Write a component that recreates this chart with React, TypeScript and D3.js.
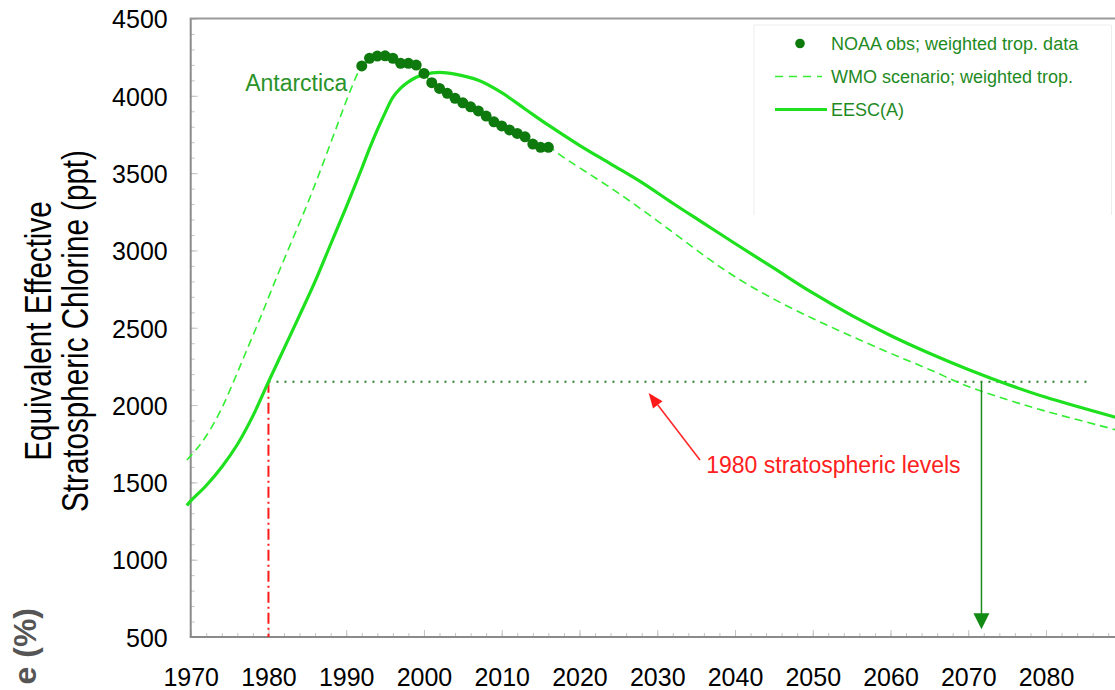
import { useEffect, useRef } from "react";
import * as d3 from "d3";

// EESC(A) curve (solid)
const eescYears = [
  1969.5, 1970, 1972, 1974, 1976, 1978, 1980, 1982, 1984, 1986, 1988, 1990,
  1992, 1993, 1994, 1995, 1996, 1997, 1998, 1999, 2000, 2002, 2004, 2007,
  2010, 2013, 2016, 2020, 2024, 2028, 2032, 2036, 2040, 2045, 2050, 2055,
  2060, 2065, 2070, 2075, 2080, 2089,
];
const eescValues = [
  1350, 1380, 1480, 1600, 1745, 1930, 2150, 2365, 2580, 2800, 3040, 3280,
  3530, 3660, 3780, 3890, 3990, 4050, 4090, 4120, 4138, 4152, 4140, 4100,
  4020, 3915, 3810, 3680, 3560, 3440, 3305, 3175, 3045, 2885, 2725, 2580,
  2450, 2335, 2230, 2135, 2050, 1920,
];

// WMO scenario (dashed), before and after the observations
const wmoEarlyYears = [1969.5, 1971, 1972.5, 1974, 1975.5, 1977, 1979, 1981, 1983, 1985, 1987, 1989, 1990.5];
const wmoEarlyValues = [1645, 1730, 1840, 1980, 2150, 2330, 2570, 2820, 3060, 3300, 3560, 3830, 4030];
const wmoLateYears = [2018, 2020, 2024, 2028, 2032, 2036, 2040, 2045, 2050, 2055, 2060, 2065, 2070, 2075, 2080, 2089];
const wmoLateValues = [3600, 3535, 3405, 3265, 3118, 2968, 2830, 2685, 2560, 2445, 2335, 2230, 2120, 2035, 1960, 1840];

// NOAA observations
const obsYears = [
  1992, 1993, 1994, 1995, 1996, 1997, 1998, 1999, 2000, 2001, 2002, 2003,
  2004, 2005, 2006, 2007, 2008, 2009, 2010, 2011, 2012, 2013, 2014, 2015,
  2016,
];
const obsValues = [
  4193, 4243, 4257, 4259, 4243, 4210, 4210, 4199, 4145, 4085, 4048, 4016,
  3984, 3955, 3929, 3902, 3869, 3832, 3805, 3779, 3757, 3735, 3688, 3667,
  3667,
];

const xMajorTicks = d3.range(1970, 2081, 10);
const xMinorTicks = d3.range(1970, 2089, 2);
const yMajorTicks = d3.range(500, 4501, 500);
const yMinorTicks = d3.range(500, 4501, 100);

const level1980 = 2150;
const recoveryYear = 2071.7;

const legendItems = [
  { label: "NOAA obs; weighted trop. data", kind: "dot" },
  { label: "WMO scenario; weighted trop.", kind: "dash" },
  { label: "EESC(A)", kind: "solid" },
];

const W = 1115;
const H = 690;
const FONT = "'Liberation Sans', Arial, Helvetica, sans-serif";

export default function App() {
  const svgRef = useRef<SVGSVGElement>(null);

  useEffect(() => {
    const svg = d3.select(svgRef.current);
    svg.selectAll("*").remove();

    const x = d3.scaleLinear().domain([1970, 2080]).range([190.7, 1046]);
    const y = d3.scaleLinear().domain([500, 4500]).range([637, 18.5]);

    const solidGreen = "#1ee01e";
    const dashGreen = "#33ee33";
    const dotGreen = "#0e7a0e";
    const textGreen = "#1f8a1f";

    // minor / major ticks (inside)
    const tickCol = "#c4c4c4";
    const gy = svg
      .append("g")
      .attr("transform", `translate(${x(1970)},0)`)
      .call(d3.axisLeft(y).tickValues(yMinorTicks).tickSize(-4).tickFormat(() => ""));
    gy.select(".domain").remove();
    gy.selectAll("line").attr("stroke", tickCol);

    const gyM = svg
      .append("g")
      .attr("transform", `translate(${x(1970)},0)`)
      .call(
        d3
          .axisLeft(y)
          .tickValues(yMajorTicks)
          .tickSize(-7)
          .tickPadding(23)
          .tickFormat(d3.format("d"))
      );
    gyM.select(".domain").remove();
    gyM.selectAll("line").attr("stroke", tickCol);
    gyM
      .selectAll("text")
      .attr("font-family", FONT)
      .attr("font-size", 25)
      .attr("fill", "#000")
      .attr("dy", "0.37em");

    const gx = svg
      .append("g")
      .attr("transform", `translate(0,${y(500)})`)
      .call(d3.axisBottom(x).tickValues(xMinorTicks).tickSize(-4).tickFormat(() => ""));
    gx.select(".domain").remove();
    gx.selectAll("line").attr("stroke", tickCol);

    const gxM = svg
      .append("g")
      .attr("transform", `translate(0,${y(500)})`)
      .call(
        d3
          .axisBottom(x)
          .tickValues(xMajorTicks)
          .tickSize(-7)
          .tickPadding(31)
          .tickFormat(d3.format("d"))
      );
    gxM.select(".domain").remove();
    gxM.selectAll("line").attr("stroke", tickCol);
    gxM
      .selectAll("text")
      .attr("font-family", FONT)
      .attr("font-size", 25)
      .attr("fill", "#000");

    // frame lines
    svg
      .append("line")
      .attr("x1", x(1970))
      .attr("x2", x(1970))
      .attr("y1", y(4500))
      .attr("y2", y(500))
      .attr("stroke", "#8a8a8a")
      .attr("stroke-width", 2);
    svg
      .append("line")
      .attr("x1", x(1970) - 1)
      .attr("x2", W)
      .attr("y1", y(500))
      .attr("y2", y(500))
      .attr("stroke", "#8a8a8a")
      .attr("stroke-width", 2);
    svg
      .append("line")
      .attr("x1", x(1970) - 1)
      .attr("x2", W)
      .attr("y1", y(4500))
      .attr("y2", y(4500))
      .attr("stroke", "#9a9a9a")
      .attr("stroke-width", 2);

    // legend box (very light)
    svg
      .append("path")
      .attr("d", "M754,215 L754,25 L1111.5,25 L1111.5,215")
      .attr("fill", "none")
      .attr("stroke", "#ededed")
      .attr("stroke-width", 1);

    // 1980 level: dotted horizontal + red dash-dot vertical
    svg
      .append("line")
      .attr("x1", x(1980))
      .attr("x2", x(2085.6))
      .attr("y1", y(level1980))
      .attr("y2", y(level1980))
      .attr("stroke", "#2f7f2f")
      .attr("stroke-width", 2)
      .attr("stroke-dasharray", "2,6");
    svg
      .append("line")
      .attr("x1", x(1980))
      .attr("x2", x(1980))
      .attr("y1", y(level1980))
      .attr("y2", y(500))
      .attr("stroke", "#ff1a1a")
      .attr("stroke-width", 2)
      .attr("stroke-dasharray", "11,4,2,4");

    // curves
    const line = d3
      .line<[number, number]>()
      .x((d) => x(d[0]))
      .y((d) => y(d[1]))
      .curve(d3.curveCatmullRom.alpha(0.5));

    const wmoPts: [number, number][] = [
      ...wmoEarlyYears.map((yr, i) => [yr, wmoEarlyValues[i]] as [number, number]),
      ...obsYears.map((yr, i) => [yr, obsValues[i]] as [number, number]),
      ...wmoLateYears.map((yr, i) => [yr, wmoLateValues[i]] as [number, number]),
    ];
    svg
      .append("path")
      .attr("d", line(wmoPts))
      .attr("fill", "none")
      .attr("stroke", dashGreen)
      .attr("stroke-width", 1.6)
      .attr("stroke-dasharray", "8,5");

    const eescPts = eescYears.map((yr, i) => [yr, eescValues[i]] as [number, number]);
    svg
      .append("path")
      .attr("d", line(eescPts))
      .attr("fill", "none")
      .attr("stroke", solidGreen)
      .attr("stroke-width", 3.2);

    svg
      .append("g")
      .selectAll("circle")
      .data(obsYears)
      .join("circle")
      .attr("cx", (d) => x(d))
      .attr("cy", (_, i) => y(obsValues[i]))
      .attr("r", 5.5)
      .attr("fill", dotGreen);

    // green arrow down to the recovery year
    svg
      .append("line")
      .attr("x1", x(recoveryYear))
      .attr("x2", x(recoveryYear))
      .attr("y1", y(level1980))
      .attr("y2", y(640))
      .attr("stroke", "#1c8c1c")
      .attr("stroke-width", 1.5);
    svg
      .append("path")
      .attr(
        "d",
        `M${x(recoveryYear) - 8},${y(653)} L${x(recoveryYear) + 8},${y(653)} L${x(recoveryYear)},${y(550)} Z`
      )
      .attr("fill", "#138a13");

    // red arrow pointing at the 1980 level
    const ax1 = x(2035.5), ay1 = y(1645);
    const ax2 = x(2028.9), ay2 = y(2078);
    const ang = Math.atan2(ay2 - ay1, ax2 - ax1);
    const hl = 15, hw = 6;
    const bx = ax2 - hl * Math.cos(ang), by = ay2 - hl * Math.sin(ang);
    svg
      .append("line")
      .attr("x1", ax1)
      .attr("y1", ay1)
      .attr("x2", bx)
      .attr("y2", by)
      .attr("stroke", "#ff2a2a")
      .attr("stroke-width", 1.6);
    svg
      .append("path")
      .attr(
        "d",
        `M${ax2},${ay2} L${bx + hw * Math.sin(ang)},${by - hw * Math.cos(ang)} L${bx - hw * Math.sin(ang)},${by + hw * Math.cos(ang)} Z`
      )
      .attr("fill", "#ff1a1a");

    svg
      .append("text")
      .attr("x", x(2036.3))
      .attr("y", y(1560))
      .attr("font-family", FONT)
      .attr("font-size", 23)
      .attr("fill", "#ff2020")
      .text("1980 stratospheric levels");

    svg
      .append("text")
      .attr("x", x(1977))
      .attr("y", y(4031))
      .attr("font-family", FONT)
      .attr("font-size", 23)
      .attr("fill", "#2a932a")
      .text("Antarctica");

    // legend
    const lg = svg.append("g");
    legendItems.forEach((item, i) => {
      const cy = 43.5 + i * 33;
      if (item.kind === "dot") {
        lg.append("circle").attr("cx", 800).attr("cy", cy).attr("r", 4.8).attr("fill", dotGreen);
      } else {
        lg.append("line")
          .attr("x1", 775)
          .attr("x2", item.kind === "dash" ? 822 : 827)
          .attr("y1", cy)
          .attr("y2", cy)
          .attr("stroke", item.kind === "dash" ? dashGreen : solidGreen)
          .attr("stroke-width", item.kind === "dash" ? 1.6 : 3)
          .attr("stroke-dasharray", item.kind === "dash" ? "8,6" : null);
      }
      lg.append("text")
        .attr("x", 831)
        .attr("y", cy + 6.5)
        .attr("font-family", FONT)
        .attr("font-size", 18)
        .attr("fill", textGreen)
        .text(item.label);
    });

    // y axis title (condensed)
    const titleLines = ["Equivalent Effective", "Stratospheric Chlorine (ppt)"];
    const baseX = [51, 88];
    titleLines.forEach((t, i) => {
      svg
        .append("text")
        .attr("transform", `translate(${baseX[i]},331) rotate(-90) scale(0.8,1)`)
        .attr("text-anchor", "middle")
        .attr("font-family", FONT)
        .attr("font-size", 37)
        .attr("fill", "#000")
        .text(t);
    });

    // fragment of the neighbouring chart's axis title
    svg
      .append("text")
      .attr("transform", "translate(36,608) rotate(-90)")
      .attr("text-anchor", "end")
      .attr("font-family", FONT)
      .attr("font-size", 32)
      .attr("font-weight", "bold")
      .attr("fill", "#555")
      .text("e (%)");
  }, []);

  return (
    <svg
      ref={svgRef}
      width={W}
      height={H}
      viewBox={`0 0 ${W} ${H}`}
      style={{ position: "absolute", left: 0, top: 0, background: "#fff" }}
    />
  );
}
